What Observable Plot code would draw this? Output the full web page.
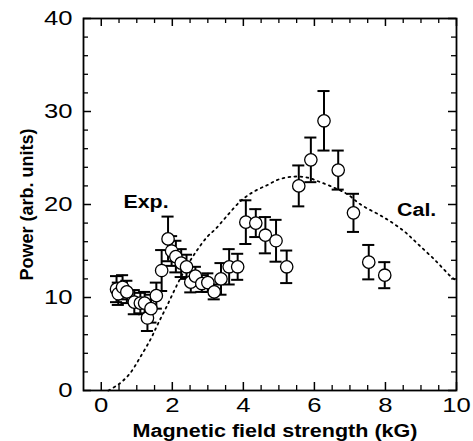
<!DOCTYPE html>
<html>
<head>
<meta charset="utf-8">
<script src="https://cdn.jsdelivr.net/npm/d3@7"></script>
<script src="https://cdn.jsdelivr.net/npm/@observablehq/plot@0.6"></script>
<style>
  html, body { margin: 0; padding: 0; background: #fff; }
  #chart { width: 473px; height: 441px; }
</style>
</head>
<body>
<div id="chart"></div>
<script>
// Experimental data: field (kG), power, error half-width
const expField = [0.43, 0.48, 0.60, 0.72, 0.93, 1.10, 1.22, 1.30, 1.40, 1.55, 1.70, 1.88, 1.98, 2.10, 2.25, 2.40, 2.52, 2.65, 2.83, 3.00, 3.18, 3.37, 3.60, 3.84, 4.07, 4.35, 4.62, 4.92, 5.22, 5.56, 5.90, 6.27, 6.67, 7.10, 7.53, 7.98];
const expPower = [10.9, 10.4, 11.1, 10.6, 9.5, 9.4, 9.4, 7.8, 8.8, 10.2, 12.9, 16.3, 15.0, 14.4, 13.7, 13.3, 11.65, 12.3, 11.5, 11.6, 10.6, 12.0, 13.3, 13.3, 18.1, 18.0, 16.7, 16.1, 13.3, 22.0, 24.8, 29.0, 23.7, 19.1, 13.8, 12.4];
const expErr = [1.4, 1.2, 1.3, 1.2, 1.3, 1.1, 1.2, 1.4, 1.5, 1.4, 2.2, 2.4, 1.6, 1.7, 1.5, 1.3, 1.1, 1.0, 0.9, 1.0, 0.8, 1.7, 1.9, 1.4, 2.35, 1.5, 1.95, 2.25, 1.75, 2.2, 2.4, 3.2, 2.1, 2.05, 1.85, 1.4];

// Calculated curve
const calField = [0.2, 0.5, 0.8, 1.1, 1.4, 1.6, 1.85, 2.1, 2.4, 2.7, 3.0, 3.2, 3.5, 3.93, 4.3, 4.68, 5.0, 5.4, 5.8, 6.1, 6.5, 6.93, 7.3, 7.96, 8.5, 8.9, 9.4, 9.83, 10.0];
const calPower = [0.0, 0.7, 1.8, 3.6, 5.6, 7.2, 9.1, 11.1, 13.3, 15.1, 16.6, 17.3, 18.6, 20.4, 21.4, 22.1, 22.7, 23.0, 22.9, 22.5, 21.9, 21.1, 20.0, 18.6, 17.2, 15.8, 14.0, 12.3, 11.8];

// Ticks
const xTicks = [0, 2, 4, 6, 8, 10];
const xMinorTicks = [0.5, 1, 1.5, 2.5, 3, 3.5, 4.5, 5, 5.5, 6.5, 7, 7.5, 8.5, 9, 9.5];
const yTicks = [0, 10, 20, 30, 40];
const yMinorTicks = [2, 4, 6, 8, 12, 14, 16, 18, 22, 24, 26, 28, 32, 34, 36, 38];

// Labels
const xLabel = "Magnetic field strength (kG)";
const yLabel = "Power (arb. units)";
const annotations = [
  {x: 1.26, y: 20.2, text: "Exp."},
  {x: 8.88, y: 19.35, text: "Cal."}
];

const expData = expField.map((x, i) => ({x, y: expPower[i], e: expErr[i]}));
const calData = calField.map((x, i) => ({x, y: calPower[i]}));

const W = 473, H = 441;
const mL = 83, mR = 17, mT = 18, mB = 51;
const fw = W - mL - mR, fh = H - mT - mB;
const font = "'Liberation Sans', Arial, Helvetica, sans-serif";
const capHalf = 0.17;

const plot = Plot.plot({
  width: W, height: H,
  marginLeft: mL, marginRight: mR, marginTop: mT, marginBottom: mB,
  style: {fontFamily: font, fontSize: "21px", color: "black", background: "white", overflow: "visible"},
  x: {domain: [-0.5, 10]},
  y: {domain: [0, 40]},
  marks: [
    Plot.ruleX(xTicks, {x: d => d, insetTop: fh - 8, stroke: "black", strokeWidth: 1.5}),
    Plot.ruleX(xTicks, {x: d => d, insetBottom: fh - 8, stroke: "black", strokeWidth: 1.5}),
    Plot.ruleX(xMinorTicks, {x: d => d, insetTop: fh - 5, stroke: "black", strokeWidth: 1.3}),
    Plot.ruleX(xMinorTicks, {x: d => d, insetBottom: fh - 5, stroke: "black", strokeWidth: 1.3}),
    Plot.ruleY(yTicks, {y: d => d, insetRight: fw - 8, stroke: "black", strokeWidth: 1.5}),
    Plot.ruleY(yTicks, {y: d => d, insetLeft: fw - 8, stroke: "black", strokeWidth: 1.5}),
    Plot.ruleY(yMinorTicks, {y: d => d, insetRight: fw - 5, stroke: "black", strokeWidth: 1.3}),
    Plot.ruleY(yMinorTicks, {y: d => d, insetLeft: fw - 5, stroke: "black", strokeWidth: 1.3}),
    Plot.axisX({ticks: xTicks, tickSize: 0, tickPadding: 7, label: null, fontSize: 21}),
    Plot.axisY({ticks: yTicks, tickSize: 0, tickPadding: 11, label: null, fontSize: 21}),
    Plot.line(calData, {x: "x", y: "y", curve: "catmull-rom", stroke: "black", strokeWidth: 1.8, strokeDasharray: "1.8 4.2"}),
    Plot.ruleX(expData, {x: "x", y1: d => d.y - d.e, y2: d => d.y + d.e, stroke: "black", strokeWidth: 2}),
    Plot.ruleY(expData, {y: d => d.y + d.e, x1: d => d.x - capHalf, x2: d => d.x + capHalf, stroke: "black", strokeWidth: 2}),
    Plot.ruleY(expData, {y: d => d.y - d.e, x1: d => d.x - capHalf, x2: d => d.x + capHalf, stroke: "black", strokeWidth: 2}),
    Plot.dot(expData, {x: "x", y: "y", r: 6.2, fill: "white", stroke: "black", strokeWidth: 1.3}),
    Plot.text(annotations, {x: "x", y: "y", text: "text", fontSize: 17.5, fontWeight: "bold", fill: "black"}),
    Plot.text([xLabel], {frameAnchor: "bottom", textAnchor: "middle", lineAnchor: "middle", dx: 5, dy: 41, fontSize: 18, fontWeight: "bold", fill: "black"}),
    Plot.text([yLabel], {frameAnchor: "left", textAnchor: "middle", lineAnchor: "middle", dx: -56, rotate: -90, fontSize: 18, fontWeight: "bold", fill: "black"}),
    Plot.frame({stroke: "black", strokeWidth: 1.8})
  ]
});
document.getElementById("chart").appendChild(plot);

// The reference's horizontal text is slightly wide: stretch horizontal labels
d3.select(plot).selectAll("text").each(function() {
  const t = this.textContent;
  if (t === yLabel) return;
  const len = this.getComputedTextLength();
  let k = 1.22;
  if (t === xLabel) k = 285 / len;
  this.setAttribute("textLength", (len * k).toFixed(1));
  this.setAttribute("lengthAdjust", "spacingAndGlyphs");
});
</script>
</body>
</html>
